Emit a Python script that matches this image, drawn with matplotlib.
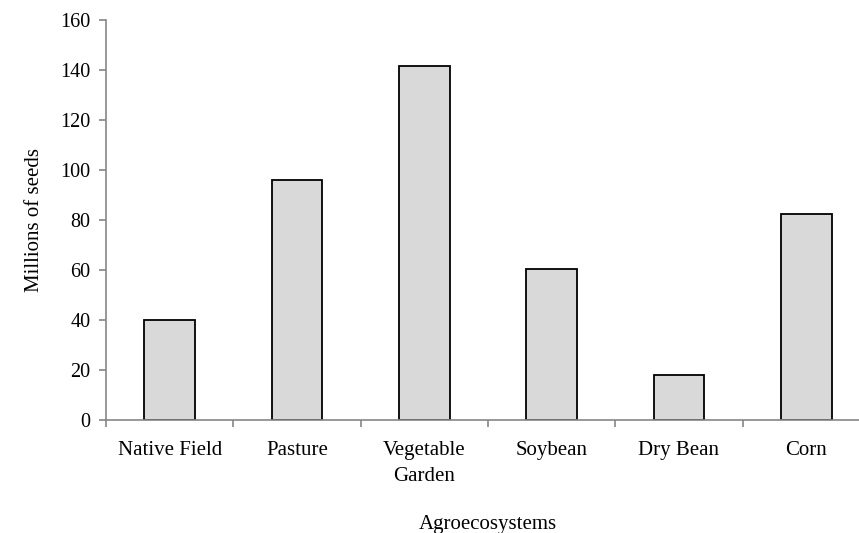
import numpy as np
import matplotlib
matplotlib.use("Agg")
import matplotlib.pyplot as plt
from matplotlib.ticker import FixedLocator, NullFormatter

categories = ["Native Field", "Pasture", "Vegetable\nGarden", "Soybean", "Dry Bean", "Corn"]
seeds_millions = [40, 96, 141.5, 60.5, 18, 82.5]

plt.rcParams["font.family"] = ["Liberation Serif", "DejaVu Serif"]
AXIS = "#868686"

fig = plt.figure(figsize=(8.59, 5.33), dpi=100)
ax = fig.add_axes([106 / 859, 1 - 420 / 533, 764 / 859, 400 / 533])

x = np.arange(len(categories))
ax.bar(x, seeds_millions, width=0.4, color="#d9d9d9", edgecolor="black", linewidth=1.3, zorder=2)

ax.set_xlim(-0.5, len(categories) - 0.5)
ax.set_ylim(0, 160)
ax.set_yticks(np.arange(0, 161, 20))

# category separators as major ticks, labels on minor ticks at the bar centres
ax.xaxis.set_major_locator(FixedLocator(np.arange(-0.5, len(categories), 1.0)))
ax.xaxis.set_major_formatter(NullFormatter())
ax.xaxis.set_minor_locator(FixedLocator(x))
ax.set_xticklabels(categories, minor=True, linespacing=1.5)
ax.tick_params(axis="x", which="minor", length=0, pad=15, labelsize=15)
ax.tick_params(axis="x", which="major", length=5, color=AXIS, width=1.2)
ax.tick_params(axis="y", length=5, color=AXIS, width=1.2, labelsize=14.5, pad=6)

for s in ["top", "right"]:
    ax.spines[s].set_visible(False)
for s in ["left", "bottom"]:
    ax.spines[s].set_color(AXIS)
    ax.spines[s].set_linewidth(1.2)

ax.set_ylabel("Millions of seeds", fontsize=15, labelpad=12)
fig.text(488 / 859, 1 - 529 / 533, "Agroecosystems", fontsize=15, ha="center", va="baseline")

fig.savefig("out.png", dpi=100)
